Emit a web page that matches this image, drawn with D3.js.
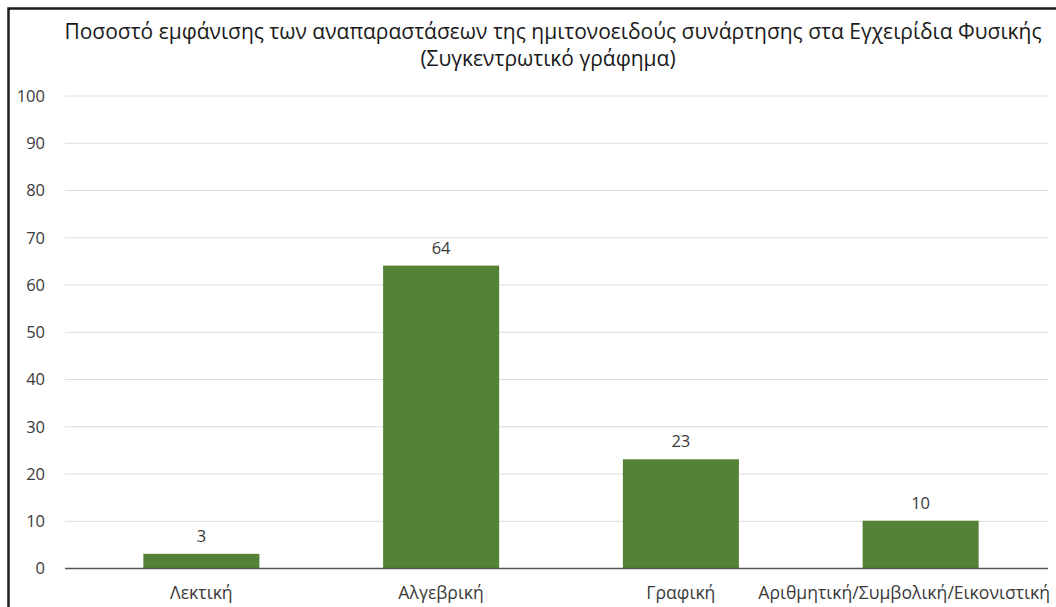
<!DOCTYPE html>
<html><head><meta charset="utf-8">
<script src="https://cdn.jsdelivr.net/npm/d3@7"></script>
<style>html,body{margin:0;padding:0;background:#fff;overflow:hidden}</style>
</head><body><svg id="c" width="1056" height="607"></svg>
<script>
const categories = ["Λεκτική","Αλγεβρική","Γραφική","Αριθμητική/Συμβολική/Εικονιστική"];
const values = [3, 64, 23, 10];
const yTicks = [0,10,20,30,40,50,60,70,80,90,100];
const titleLines = ["Ποσοστό εμφάνισης των αναπαραστάσεων της ημιτονοειδούς συνάρτησης στα Εγχειρίδια Φυσικής","(Συγκεντρωτικό γράφημα)"];

const FONT = "'Open Sans', 'Noto Sans', sans-serif";
const FS = 16.5;
const FSX = 17.6;
const svg = d3.select("#c");
svg.append("rect").attr("width",1056).attr("height",607).attr("fill","#fff");

// frame
svg.append("path").attr("d","M8.5,620 L8.5,8.5 L1070,8.5").attr("fill","none").attr("stroke","#1e1e1e").attr("stroke-width",2.5);

const y = d3.scaleLinear().domain([0,100]).range([568,95.5]);
const x = d3.scaleBand().domain(categories).range([81.5,1040.5]).paddingInner(0.516).paddingOuter(0.258);

// gridlines
svg.append("g").selectAll("line").data(yTicks.filter(d=>d>0)).join("line")
  .attr("x1",65).attr("x2",1048).attr("y1",d=>y(d)+0.5).attr("y2",d=>y(d)+0.5)
  .attr("stroke","#dcdcdc").attr("stroke-width",1);

// y axis labels
const yAxis = d3.axisLeft(y).tickValues(yTicks).tickSize(0).tickPadding(0);
const gy = svg.append("g").attr("transform","translate(45,0)").call(yAxis);
gy.select(".domain").remove();
gy.attr("font-size",null).attr("font-family",null);
gy.selectAll("text").style("font-family",FONT).style("font-size",FS+"px").attr("fill","#3a3a3a").attr("dy","0.35em");

// bars
svg.append("g").selectAll("rect").data(values).join("rect")
  .attr("x",(d,i)=>x(categories[i])).attr("width",x.bandwidth())
  .attr("y",d=>y(d)).attr("height",d=>y(0)-y(d)).attr("fill","#538135");

// value labels
svg.append("g").selectAll("text").data(values).join("text")
  .attr("x",(d,i)=>x(categories[i])+x.bandwidth()/2).attr("y",d=>y(d)-12)
  .attr("text-anchor","middle").style("font-family",FONT).style("font-size",FS+"px").attr("fill","#3a3a3a")
  .text(d=>d);

// x axis
const xAxis = d3.axisBottom(x).tickSize(0).tickPadding(0);
const gx = svg.append("g").attr("transform","translate(0,568)").call(xAxis);
gx.select(".domain").remove();
gx.attr("font-size",null).attr("font-family",null);
gx.selectAll("text").style("font-family",FONT).style("font-size",FSX+"px").attr("fill","#3a3a3a").attr("dy",0).attr("y",31);
// keep labels inside the chart area (as the original does for the long label)
gx.selectAll(".tick").each(function(){
  const tick = d3.select(this);
  const t = tick.select("text").node();
  const cx = x(tick.datum()) + x.bandwidth()/2;
  const half = t.getComputedTextLength()/2;
  const over = cx + half - 1050;
  if (over > 0) tick.select("text").attr("x", -over);
});
svg.append("line").attr("x1",65).attr("x2",1048).attr("y1",568.5).attr("y2",568.5).attr("stroke","#555").attr("stroke-width",1.3);

// title
const t1 = svg.append("text").attr("x",553).attr("y",39).attr("text-anchor","middle")
  .style("font-family",FONT).style("font-size","18px").attr("fill","#1a1a1a").text(titleLines[0]);
const w = t1.node().getComputedTextLength();
const fs = 18*978/w;
t1.style("font-size",fs+"px");
svg.append("text").attr("x",548).attr("y",66).attr("text-anchor","middle")
  .style("font-family",FONT).style("font-size",fs+"px").attr("fill","#1a1a1a").text(titleLines[1]);
</script></body></html>
